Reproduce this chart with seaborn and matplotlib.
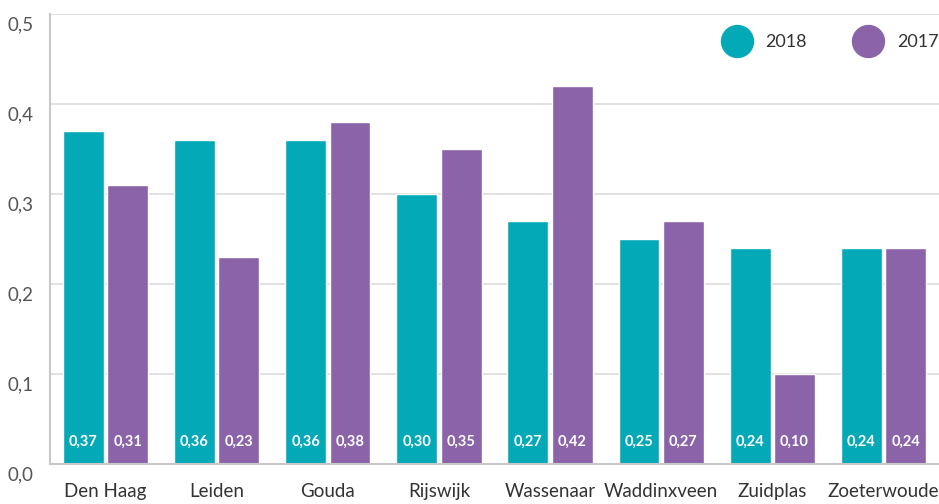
import matplotlib
matplotlib.use("Agg")
import matplotlib.pyplot as plt
import matplotlib.transforms as mtransforms
from matplotlib.lines import Line2D
import seaborn as sns
import pandas as pd

categories = ["Den Haag", "Leiden", "Gouda", "Rijswijk", "Wassenaar", "Waddinxveen", "Zuidplas", "Zoeterwoude"]
series_names = ["2018", "2017"]
values_2018 = [0.37, 0.36, 0.36, 0.30, 0.27, 0.25, 0.24, 0.24]
values_2017 = [0.31, 0.23, 0.38, 0.35, 0.42, 0.27, 0.10, 0.24]
y_ticks = [0.0, 0.1, 0.2, 0.3, 0.4, 0.5]
y_tick_labels = ["0,0", "0,1", "0,2", "0,3", "0,4", "0,5"]

colors = {"2018": "#04A9B7", "2017": "#8A63A9"}

df = pd.DataFrame({
    "gemeente": categories * 2,
    "jaar": [series_names[0]] * len(categories) + [series_names[1]] * len(categories),
    "waarde": values_2018 + values_2017,
})

sns.set_style("white")
plt.rcParams["font.family"] = ["Lato", "DejaVu Sans"]

fig = plt.figure(figsize=(9.39, 5.04), dpi=100)
ax = fig.add_axes([50 / 939, 40 / 504, 889 / 939, 450 / 504])

sns.barplot(data=df, x="gemeente", y="waarde", hue="jaar", order=categories,
            hue_order=series_names, palette=colors, width=0.8, gap=0.08,
            saturation=1, ax=ax, legend=False, errorbar=None)

ax.set_xlim(-0.5, len(categories) - 0.5)
ax.set_ylim(0, 0.5)
ax.set_yticks(y_ticks)
ax.set_yticklabels(y_tick_labels)
ax.set_xlabel("")
ax.set_ylabel("")
for y in y_ticks[1:]:
    ax.axhline(y, color="#dcdcdc", lw=1.2, zorder=0)

for s in ["right", "top"]:
    ax.spines[s].set_visible(False)
for s in ["left", "bottom"]:
    ax.spines[s].set_color("#c8c8c8")
    ax.spines[s].set_linewidth(1.5)

ax.tick_params(axis="both", length=0)
ax.tick_params(axis="y", pad=12, labelsize=13.5, labelcolor="#555555")
ax.tick_params(axis="x", pad=14, labelsize=13.5, labelcolor="#333333")
offset = mtransforms.ScaledTranslation(0, -9 / 100, fig.dpi_scale_trans)
for lbl in ax.get_yticklabels():
    lbl.set_transform(lbl.get_transform() + offset)

for cont, vals in zip(ax.containers, [values_2018, values_2017]):
    labels = [f"{v:.2f}".replace(".", ",") for v in vals]
    for bar, lab in zip(cont, labels):
        ax.text(bar.get_x() + bar.get_width() / 2, 0.025, lab, ha="center", va="center",
                color="white", fontsize=10.5, fontweight="bold")

handles = [Line2D([], [], marker="o", linestyle="", markersize=23,
                  markerfacecolor=colors[n], markeredgecolor=colors[n]) for n in series_names]
leg = ax.legend(handles, series_names, loc="upper right", bbox_to_anchor=(1.0, 0.955), ncol=2,
                frameon=False, fontsize=13, handletextpad=0.6, columnspacing=2.4,
                labelcolor="#333333", borderaxespad=0, borderpad=0)

fig.savefig("out.png", dpi=100)
